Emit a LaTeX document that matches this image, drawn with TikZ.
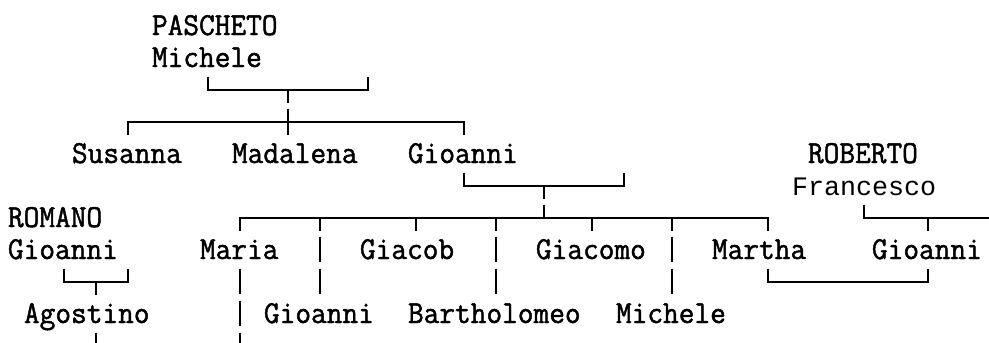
\documentclass[tikz,border=0pt]{standalone}
\usepackage{fontspec}
\newfontfamily\sansmono{Liberation Mono}
\newfontfamily\serifmono{Latin Modern Mono}[FakeStretch=0.9524, FakeBold=1.4]
\tikzset{
  txt/.style={font=\serifmono\fontsize{32}{32}\selectfont, inner sep=0pt, outer sep=0pt, anchor=base west, text=black},
  txtb/.style={font=\sansmono\fontsize{26.67}{32}\selectfont, inner sep=0pt, outer sep=0pt, anchor=base west, text=black},
  ln/.style={line width=2pt, draw=black, line join=miter},
  up/.style={yshift=13pt},
  dn/.style={yshift=-13.5pt}
}
\begin{document}
\begin{tikzpicture}[x=1pt,y=-1pt]
\useasboundingbox (0,0) rectangle (989,343);
% ---- names ----
\node[txt] (pascheto) at (152,35) {PASCHETO};
\node[txt] (michele1) at (152,67) {Michele};
\node[txt] (susanna) at (72,163) {Susanna};
\node[txt] (madalena) at (232,163) {Madalena};
\node[txt] (gioanni1) at (408,163) {Gioanni};
\node[txt] (roberto) at (808,163) {ROBERTO};
\node[txtb] (francesco) at (792,195) {Francesco};
\node[txt] (romano) at (8,227) {ROMANO};
\node[txt] (gioanni2) at (8,259) {Gioanni};
\node[txt] (maria) at (200,259) {Maria};
\node[txt] (giacob) at (360,259) {Giacob};
\node[txt] (giacomo) at (536,259) {Giacomo};
\node[txt] (martha) at (712,259) {Martha};
\node[txt] (gioanni3) at (872,259) {Gioanni};
\node[txt] (agostino) at (24,323) {Agostino};
\node[txt] (gioanni4) at (264,323) {Gioanni};
\node[txt] (bartholomeo) at (408,323) {Bartholomeo};
\node[txt] (michele2) at (616,323) {Michele};
% ---- junction points ----
\coordinate (a1) at (208,89.5); \coordinate (a2) at (288,89.5); \coordinate (a3) at (368,89.5);
\coordinate (b1) at (128,121.5); \coordinate (b2) at (288,121.5); \coordinate (b3) at (464,121.5);
\coordinate (c1) at (464,185.5); \coordinate (c2) at (544,185.5); \coordinate (c3) at (624,185.5);
\coordinate (d1) at (240,217.5); \coordinate (d2) at (320,217.5); \coordinate (d3) at (416,217.5);
\coordinate (d4) at (496,217.5); \coordinate (d5) at (544,217.5); \coordinate (d6) at (592,217.5);
\coordinate (d7) at (672,217.5); \coordinate (d8) at (768,217.5);
\coordinate (e1) at (864,217.5); \coordinate (e2) at (928,217.5); \coordinate (e3) at (992,217.5);
\coordinate (f1) at (64,281.5); \coordinate (f2) at (96,281.5); \coordinate (f3) at (128,281.5);
\coordinate (g1) at (768,281.5); \coordinate (g2) at (928,281.5);
% ---- PASCHETO family ----
\draw[ln] ([up]a1) -- (a1) -- (a3) -- ([up]a3);
\draw[ln] (a2) -- ([dn]a2);
\draw[ln] ([dn]b1) -- (b1) -- (b3) -- ([dn]b3);
\draw[ln] ([up]b2) -- ([dn]b2);
% ---- Gioanni family ----
\draw[ln] ([up]c1) -- (c1) -- (c3) -- ([up]c3);
\draw[ln] (c2) -- ([dn]c2);
\draw[ln] ([dn]d1) -- (d1) -- (d8) -- ([dn]d8);
\foreach \p in {d2,d3,d4,d6,d7} \draw[ln] (\p) -- ([dn]\p);
\draw[ln] ([up]d5) -- (d5);
% ---- ROBERTO family ----
\draw[ln] ([up]e1) -- (e1) -- (e3) -- ([dn]e3);
\draw[ln] (e2) -- ([dn]e2);
% ---- long verticals ----
\foreach \x in {320,496,672} {
  \draw[ln] (\x,236.5) -- (\x,262);
  \draw[ln] (\x,268.5) -- (\x,294);
}
\draw[ln] (240,268.5) -- (240,294);
\draw[ln] (240,300.5) -- (240,326);
\draw[ln] (240,332.5) -- (240,358);
% ---- ROMANO bracket ----
\draw[ln] ([up]f1) -- (f1) -- (f3) -- ([up]f3);
\draw[ln] (f2) -- ([dn]f2);
\draw[ln] (96,332.5) -- (96,358);
% ---- Martha--Gioanni bracket ----
\draw[ln] ([up]g1) -- (g1) -- (g2) -- ([up]g2);
\end{tikzpicture}
\end{document}
